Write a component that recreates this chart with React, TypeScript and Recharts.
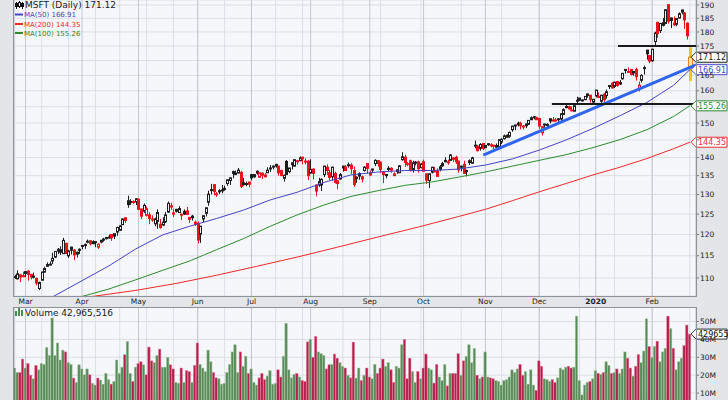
import React from 'react';
import {
  ComposedChart,
  Bar,
  Line,
  XAxis,
  YAxis,
  CartesianGrid,
  ReferenceLine,
} from 'recharts';

// MSFT daily, 25 Feb 2019 .. 24 Feb 2020 (dividend adjusted), index = trading day
const opens = [
  110.3, 109.8, 110.2, 110.5, 111.4, 111.5, 110.8, 110.4, 109.9, 107.7,
  109.5, 111.3, 112.6, 113.0, 113.8, 114.7, 116.5, 115.8, 115.5, 117.9,
  115.0, 117.0, 116.3, 115.8, 116.5, 117.4, 117.5, 118.3, 118.5, 117.8,
  118.2, 117.0, 118.2, 118.9, 119.0, 119.3, 120.0, 119.6, 120.6, 121.0,
  122.4, 124.1, 128.4, 128.0, 128.2, 128.1, 128.8, 126.3, 125.7, 124.7,
  124.8, 123.7, 122.6, 123.2, 122.5, 122.3, 123.1, 125.5, 127.1, 125.3,
  126.2, 125.4, 125.0, 125.7, 125.8, 124.2, 124.1, 123.0, 122.7, 120.1,
  123.8, 125.2, 128.0, 131.1, 132.6, 130.1, 130.7, 131.0, 131.3, 132.9,
  133.7, 136.1, 135.3, 135.7, 135.9, 133.1, 132.8, 133.3, 135.3, 134.7,
  135.7, 134.6, 135.1, 134.7, 135.8, 136.9, 137.5, 138.1, 137.6, 136.4,
  134.3, 138.9, 136.1, 138.5, 137.6, 139.1, 139.1, 140.1, 138.8, 139.0,
  135.7, 136.8, 132.5, 132.5, 132.5, 135.3, 137.3, 135.8, 134.7, 135.6,
  133.6, 134.1, 137.1, 137.4, 137.7, 137.9, 136.4, 134.2, 135.6, 134.1,
  136.4, 138.3, 135.8, 136.5, 138.3, 139.1, 138.7, 136.0, 135.1, 137.0,
  137.0, 135.0, 136.1, 135.8, 139.4, 140.1, 138.2, 139.1, 136.7, 138.5,
  138.8, 137.2, 138.8, 135.5, 133.7, 135.9, 136.3, 136.3, 136.7, 137.7,
  139.2, 138.8, 139.2, 139.9, 140.1, 139.0, 137.6, 138.1, 136.1, 138.6,
  138.4, 143.5, 143.2, 142.6, 144.0, 143.4, 143.9, 143.5, 143.5, 142.9,
  143.1, 144.4, 145.4, 145.8, 146.1, 148.0, 149.1, 150.0, 149.9, 149.0,
  149.7, 149.6, 151.0, 151.9, 151.7, 151.4, 147.1, 149.7, 149.6, 150.6,
  150.7, 150.9, 151.1, 151.2, 152.6, 154.7, 155.0, 153.9, 153.6, 156.9,
  157.7, 157.1, 157.2, 159.0, 158.6, 156.4, 158.4, 157.9, 156.7, 158.9,
  158.5, 161.4, 162.4, 161.4, 163.0, 162.2, 163.9, 167.0, 166.3, 167.0,
  165.8, 167.0, 160.7, 163.4, 167.3, 173.6, 171.7, 169.9, 176.6, 183.5,
  180.5, 182.4, 183.1, 190.1, 185.1, 182.6, 182.8, 185.1, 188.1, 187.0,
  183.2, 167.8,
];

const highs = [
  110.7, 111.7, 110.9, 111.4, 111.5, 111.8, 110.9, 111.2, 110.1, 109.2,
  111.4, 112.5, 113.5, 113.7, 115.7, 116.0, 116.8, 117.2, 119.2, 118.0,
  116.4, 117.1, 116.6, 116.0, 116.7, 117.5, 117.9, 118.8, 118.6, 118.6,
  118.4, 117.9, 118.7, 119.2, 119.4, 120.0, 120.0, 120.2, 121.9, 122.3,
  123.9, 124.2, 129.7, 128.8, 128.5, 129.0, 128.9, 126.3, 127.7, 126.9,
  125.5, 124.7, 124.1, 126.2, 123.8, 124.2, 125.5, 128.2, 127.9, 126.4,
  126.3, 127.0, 125.1, 126.2, 126.8, 124.2, 124.8, 123.4, 123.2, 122.1,
  124.7, 126.7, 131.0, 132.8, 132.6, 130.7, 131.4, 132.5, 132.3, 133.9,
  134.6, 136.4, 136.4, 137.1, 136.3, 134.4, 133.4, 133.3, 135.4, 135.3,
  136.4, 136.0, 135.8, 135.7, 137.3, 137.9, 137.8, 138.2, 137.7, 136.6,
  135.3, 139.3, 137.1, 138.6, 139.4, 139.3, 140.3, 140.1, 139.8, 139.2,
  139.5, 137.0, 132.6, 134.4, 134.3, 137.7, 138.1, 136.6, 137.5, 136.1,
  133.8, 135.7, 137.7, 137.9, 138.6, 138.4, 137.5, 134.8, 135.9, 135.0,
  137.6, 138.3, 136.4, 136.9, 139.5, 139.3, 138.9, 136.1, 135.5, 137.6,
  137.3, 135.9, 136.7, 137.9, 141.5, 140.8, 138.7, 139.4, 139.1, 139.0,
  139.1, 138.4, 139.4, 135.6, 135.6, 137.4, 137.4, 137.0, 137.9, 138.8,
  140.1, 139.4, 140.9, 140.1, 140.5, 139.1, 137.7, 139.1, 136.6, 139.5,
  140.2, 144.8, 143.6, 144.1, 144.0, 143.5, 144.1, 144.1, 143.6, 144.0,
  145.1, 145.5, 146.6, 146.6, 147.5, 149.1, 149.5, 150.4, 150.4, 149.4,
  149.8, 150.9, 152.0, 152.1, 151.9, 151.5, 149.0, 149.8, 149.9, 151.5,
  151.8, 151.5, 151.5, 153.0, 154.5, 155.5, 155.3, 155.1, 155.4, 158.1,
  157.7, 157.3, 158.3, 159.1, 158.6, 157.4, 160.3, 159.5, 158.7, 159.3,
  160.4, 161.8, 162.8, 162.9, 163.2, 163.5, 165.8, 167.0, 167.7, 167.1,
  166.4, 167.6, 163.0, 165.4, 168.3, 173.6, 171.9, 174.0, 180.1, 183.7,
  183.3, 185.1, 188.3, 190.2, 185.3, 185.7, 184.9, 187.2, 188.2, 187.3,
  183.5, 174.55,
];

const lows = [
  109.8, 109.7, 109.1, 110.2, 110.2, 109.4, 109.7, 109.9, 108.4, 107.4,
  109.5, 111.2, 112.5, 112.8, 113.1, 114.5, 115.4, 115.2, 115.5, 115.4,
  114.5, 115.3, 114.0, 114.6, 115.4, 116.5, 116.6, 117.9, 117.4, 117.8,
  117.0, 116.6, 117.9, 118.3, 118.8, 119.0, 118.5, 118.9, 119.7, 121.0,
  122.3, 122.8, 126.6, 127.3, 127.6, 127.3, 126.0, 123.8, 125.3, 124.4,
  122.5, 123.1, 122.0, 121.4, 121.4, 122.1, 122.8, 125.3, 126.1, 124.3,
  125.4, 125.3, 123.5, 124.8, 124.8, 122.8, 123.4, 122.1, 117.9, 118.0,
  123.0, 124.4, 127.1, 130.0, 129.8, 129.4, 130.1, 130.3, 131.0, 132.3,
  132.5, 134.3, 135.2, 135.7, 131.7, 132.3, 132.2, 131.9, 133.7, 134.4,
  135.3, 134.4, 134.1, 134.5, 135.7, 136.0, 136.7, 137.2, 135.0, 135.0,
  133.4, 135.2, 135.7, 136.7, 137.5, 138.0, 139.0, 138.1, 138.1, 133.8,
  135.6, 134.0, 129.5, 132.0, 130.9, 134.6, 135.2, 133.8, 133.7, 132.9,
  131.4, 133.9, 136.1, 136.4, 137.2, 135.5, 132.0, 133.1, 133.9, 133.2,
  136.1, 135.5, 134.9, 135.7, 137.6, 137.4, 135.7, 133.0, 134.3, 136.1,
  135.8, 134.9, 135.5, 135.7, 139.1, 137.4, 137.6, 136.1, 135.8, 137.8,
  135.8, 137.0, 136.2, 132.8, 131.7, 135.6, 136.2, 134.8, 136.2, 137.4,
  138.7, 138.0, 139.0, 138.7, 138.2, 135.8, 136.2, 135.5, 134.8, 137.9,
  138.3, 142.6, 141.8, 141.9, 142.1, 142.7, 143.3, 142.9, 142.3, 142.9,
  143.0, 143.8, 145.1, 145.6, 145.6, 147.4, 147.9, 149.0, 148.1, 148.1,
  148.5, 149.5, 150.9, 151.1, 150.9, 148.3, 146.3, 148.6, 148.2, 149.9,
  150.5, 150.4, 150.0, 150.6, 152.5, 154.5, 154.1, 153.8, 153.6, 155.9,
  156.9, 156.7, 157.0, 157.8, 156.3, 156.1, 157.9, 157.7, 156.1, 156.2,
  157.5, 160.6, 160.8, 160.9, 161.3, 161.9, 163.6, 165.6, 165.8, 165.0,
  164.9, 163.3, 159.8, 162.7, 165.3, 170.3, 169.1, 169.6, 175.2, 177.9,
  179.6, 182.0, 182.8, 183.0, 181.4, 182.1, 182.1, 185.0, 186.5, 181.1,
  177.3, 163.2,
];

const closes = [
  110.1, 110.9, 110.7, 110.5, 111.0, 110.8, 110.2, 110.3, 108.9, 109.0,
  111.3, 112.1, 113.0, 113.1, 114.4, 116.0, 116.1, 116.4, 118.6, 115.5,
  116.1, 116.3, 115.2, 115.4, 116.4, 117.4, 117.6, 118.4, 117.8, 118.3,
  118.3, 117.7, 118.6, 118.7, 119.3, 119.4, 119.2, 120.2, 121.7, 122.1,
  123.8, 123.4, 127.4, 128.2, 128.1, 128.9, 126.2, 124.5, 127.2, 126.4,
  123.9, 123.8, 123.8, 125.4, 121.7, 123.0, 124.8, 127.7, 126.8, 125.0,
  125.7, 126.4, 125.0, 125.0, 124.9, 123.7, 124.5, 122.5, 118.7, 122.0,
  124.6, 126.6, 130.1, 131.3, 130.8, 130.2, 131.0, 131.2, 131.6, 133.9,
  134.4, 135.6, 135.7, 136.5, 132.1, 132.6, 132.9, 132.7, 134.4, 135.3,
  136.2, 135.8, 135.7, 135.2, 136.5, 137.1, 137.6, 137.6, 135.8, 135.0,
  135.1, 135.3, 137.1, 138.0, 139.4, 138.9, 139.9, 139.6, 139.0, 135.0,
  136.7, 135.6, 130.9, 133.4, 134.0, 137.6, 136.4, 134.5, 137.3, 133.2,
  132.9, 135.3, 137.6, 136.4, 138.0, 136.9, 132.6, 134.6, 134.9, 134.7,
  137.3, 137.0, 135.2, 136.8, 139.2, 138.3, 136.7, 135.3, 135.3, 136.7,
  136.5, 135.5, 136.6, 137.7, 140.2, 138.6, 138.3, 136.6, 138.5, 138.7,
  136.9, 138.2, 136.2, 133.8, 135.5, 137.3, 136.3, 134.8, 137.4, 138.3,
  138.8, 138.7, 140.7, 139.5, 138.8, 136.6, 137.6, 135.6, 136.4, 139.1,
  139.9, 143.3, 141.9, 143.7, 142.5, 142.8, 143.7, 143.6, 143.2, 143.4,
  145.1, 145.2, 146.2, 146.4, 147.2, 149.1, 149.4, 149.5, 149.2, 149.1,
  149.2, 150.8, 151.6, 151.9, 151.0, 149.1, 148.9, 149.5, 149.5, 151.3,
  150.9, 150.7, 151.3, 152.8, 154.1, 155.1, 154.3, 154.0, 155.3, 157.0,
  157.0, 157.0, 158.2, 158.5, 157.2, 157.3, 160.2, 158.2, 158.6, 157.2,
  159.7, 161.7, 160.9, 162.8, 161.7, 162.7, 165.7, 166.7, 166.1, 165.3,
  166.3, 164.6, 161.8, 165.0, 167.6, 172.3, 169.8, 173.9, 179.6, 179.4,
  183.1, 183.4, 188.2, 183.9, 184.2, 183.2, 184.9, 186.7, 187.3, 184.4,
  178.6, 171.12,
];

// volume in millions of shares
const volumes = [
  24, 21.5, 21.5, 29, 24, 26.5, 20, 18, 25.5, 23,
  26.5, 26, 35.5, 31, 52, 31, 38, 28.5, 34, 33,
  27, 26, 18.4, 16, 25.8, 23.5, 20.2, 23.5, 20.2, 15.5,
  14.5, 18.4, 17.3, 15, 21, 17.5, 15, 16.5, 28.5, 21,
  24.5, 31.4, 38.8, 21, 16.5, 24.5, 26.5, 27.5, 25.8, 20.2,
  35.7, 28, 27, 31, 34.6, 24.5, 24.5, 30, 25.8, 23.5,
  16, 15.5, 24, 16, 22.5, 22, 16, 25.5, 38, 26,
  24, 22, 34, 27.5, 21.5, 18.5, 18, 15, 15.5, 21.5,
  26, 33, 37, 21.5, 33, 25, 30.6, 21, 23.5, 16,
  14.5, 18.5, 21, 17.5, 19.5, 22.5, 15, 15.5, 23, 19,
  30.6, 49, 23, 18.5, 20.5, 21, 19, 17, 16.5, 38.6,
  40, 30, 41.6, 33, 32, 31, 23.5, 25.8, 26, 31.8,
  29.5, 27, 25, 24, 20, 18.5, 38.5, 18.4, 24, 17,
  20, 24, 19, 18, 26, 21, 24, 29, 25, 27,
  23, 16, 25, 24, 37, 40, 18, 29.5, 22, 16,
  22, 18, 24, 31.8, 24, 23, 15.6, 26, 19, 17,
  26, 14, 21, 21, 21, 32, 20, 28, 30.6, 37,
  27, 35, 20, 18, 19, 33, 19, 18.5, 18, 17,
  16.5, 14.5, 17, 17.5, 19, 23, 21.5, 23.5, 26, 20,
  22, 15, 23, 14.5, 11.5, 28, 25, 18, 17.5, 16.5,
  17.5, 16, 18.5, 24, 23, 24.5, 25, 24, 24.5, 53,
  17, 9, 14.5, 16, 16.5, 18, 22.5, 21, 20.5, 21.5,
  27.5, 25.5, 21, 21.5, 23.5, 21, 23.5, 33, 29.5, 24,
  19.5, 25, 31.5, 27, 33.5, 51.5, 36, 30, 36, 39,
  27.5, 33, 35, 53, 46, 35, 23, 27.5, 29.5, 36.5,
  48, 42.965516,
];

// moving averages at sample days
const ma50Idx = [5, 14, 25, 35, 45, 55, 65, 75, 85, 95, 105, 115, 125, 135, 145, 155, 165, 175, 185, 195, 205, 215, 225, 235, 245, 251];
const ma50Vals = [103.8, 105.9, 109.4, 112.7, 116.6, 119.9, 122.0, 123.9, 126.0, 128.6, 130.6, 133.2, 135.2, 136.0, 136.4, 136.4, 136.8, 137.9, 139.6, 142.1, 145.0, 148.4, 152.2, 156.3, 161.8, 166.91];
const ma100Idx = [15, 25, 35, 45, 55, 65, 75, 85, 95, 105, 115, 125, 135, 145, 155, 165, 175, 185, 195, 205, 215, 225, 235, 245, 251];
const ma100Vals = [103.8, 106.0, 107.6, 109.6, 111.7, 113.8, 116.4, 119.0, 122.0, 124.8, 127.3, 129.5, 131.0, 132.4, 133.3, 134.6, 136.0, 137.6, 139.2, 140.8, 142.8, 145.1, 148.0, 152.0, 155.26];
const ma200Idx = [0, 30, 45, 60, 75, 90, 105, 120, 135, 150, 165, 175, 185, 195, 205, 215, 225, 235, 245, 251];
const ma200Vals = [103.8, 106.1, 107.3, 108.8, 110.6, 112.6, 114.7, 117.0, 119.4, 121.8, 124.4, 126.2, 128.4, 130.7, 132.9, 135.2, 137.3, 139.7, 142.5, 144.35];

const monthStarts = [4, 25, 46, 68, 88, 110, 132, 152, 175, 195, 216, 237];
const monthLabels = ['Mar', 'Apr', 'May', 'Jun', 'Jul', 'Aug', 'Sep', 'Oct', 'Nov', 'Dec', '2020', 'Feb'];
const weekStarts = [
  0, 5, 10, 15, 20, 25, 30, 35, 39, 44, 49, 54, 59, 64, 68, 73, 78, 83, 88, 92, 97, 102,
  107, 112, 117, 122, 127, 132, 136, 141, 146, 151, 156, 161, 166, 171, 176, 181, 186,
  191, 195, 200, 205, 210, 214, 218, 223, 228, 232, 237, 242, 247, 251,
];
const priceTicks = [110, 115, 120, 125, 130, 135, 140, 145, 150, 155, 160, 165, 170, 175, 180, 185, 190];
const hiddenPriceLabels = [145, 155, 170];
const volTicks = [10, 20, 30, 40, 50];

// user drawn annotations (day index, price)
const resistance = [{ x: 224.3, y: 175 }, { x: 253.3, y: 175 }];
const support = [{ x: 199.7, y: 155.8 }, { x: 253.3, y: 155.8 }];
const trendLine = [{ x: 174.2, y: 140.7 }, { x: 253.3, y: 168.5 }];

const FONT = '"DejaVu Sans", Verdana, sans-serif';
const X_DOMAIN: [number, number] = [-0.3, 253.3];
const BG = '#f6f7fa';
const GRID = '#dcdfe5';
const GRID_MONTH = '#c3c7ce';
const C_MA50 = '#4444c4';
const C_MA100 = '#2e8b2e';
const C_MA200 = '#ee2a2a';

const rows: any[] = closes.map((c, i) => ({
  i,
  range: [lows[i], highs[i]],
  o: opens[i],
  h: highs[i],
  l: lows[i],
  c,
  vol: volumes[i],
  down: i > 0 && c < closes[i - 1],
  last: i === closes.length - 1,
  ma50: null,
  ma100: null,
  ma200: null,
}));
ma50Idx.forEach((k, j) => { rows[k].ma50 = ma50Vals[j]; });
ma100Idx.forEach((k, j) => { rows[k].ma100 = ma100Vals[j]; });
ma200Idx.forEach((k, j) => { rows[k].ma200 = ma200Vals[j]; });

const Candle = (props: any) => {
  const { x, y, width, height, payload } = props;
  if (x == null || y == null || !payload) return null;
  const cx = Math.round(x + width / 2) + 0.5;
  const lh = Math.log(payload.h);
  const span = lh - Math.log(payload.l) || 1;
  const py = (v: number) => y + (height * (lh - Math.log(v))) / span;
  const yo = py(payload.o);
  const yc = py(payload.c);
  const top = Math.min(yo, yc);
  const bh = Math.max(Math.abs(yo - yc), 1);
  const hollow = payload.c > payload.o;
  if (payload.last) {
    return (
      <g>
        <line x1={cx} x2={cx} y1={y} y2={y + height} stroke="#f3c21b" strokeWidth={3} />
        <rect x={cx - 2} y={top} width={4} height={bh} fill="#fbe9a8" stroke="#e8821e" strokeWidth={1} />
      </g>
    );
  }
  const col = payload.down ? '#e8141c' : '#1e1e1e';
  return (
    <g>
      <line x1={cx} x2={cx} y1={y} y2={y + height} stroke={col} strokeWidth={1} />
      <rect x={cx - 1} y={top} width={2} height={bh} fill={hollow ? BG : col} stroke={col} strokeWidth={1} />
    </g>
  );
};

const VolBar = (props: any) => {
  const { x, y, width, height, payload } = props;
  if (x == null || y == null || !payload) return null;
  const cx = x + width / 2;
  const fill = payload.down ? '#b3204c' : '#5a8c5a';
  const edge = payload.down ? '#e27a98' : '#9ec49e';
  return <rect x={cx - 1.2} y={y} width={2.4} height={height} fill={fill} stroke={edge} strokeWidth={0.5} />;
};

const Tag = (props: any) => {
  const { viewBox, text, color, textColor } = props;
  if (!viewBox) return null;
  const tip = viewBox.x + viewBox.width - 5;
  const cy = viewBox.y;
  const right = 727;
  const d = `M${tip},${cy} L${tip + 5},${cy - 5} L${right},${cy - 5} L${right},${cy + 5} L${tip + 5},${cy + 5} Z`;
  return (
    <g>
      <path d={d} fill="#ffffff" stroke={color} strokeWidth={1} />
      <text x={tip + 7} y={cy + 3} fontSize={8} fontFamily={FONT} fill={textColor || color}>
        {text}
      </text>
    </g>
  );
};

const MonthTick = (props: any) => {
  const { x, y, payload } = props;
  const k = monthStarts.indexOf(payload.value);
  const label = monthLabels[k] || '';
  return (
    <text x={x} y={y + 8} textAnchor="middle" fontSize={7.5} fontFamily={FONT}
      fontWeight={label === '2020' ? 'bold' : 'normal'} fill="#222">
      {label}
    </text>
  );
};

const PriceTick = (props: any) => {
  const { x, y, payload } = props;
  if (hiddenPriceLabels.includes(payload.value)) return null;
  return (
    <text x={x} y={y} dy="0.35em" fontSize={7.5} fontFamily={FONT} fill="#222">{payload.value}</text>
  );
};

const VolTick = (props: any) => {
  const { x, y, payload } = props;
  return (
    <text x={x} y={y} dy="0.35em" fontSize={7.5} fontFamily={FONT} fill="#222">{`${payload.value}M`}</text>
  );
};

export default function App() {
  return (
    <div style={{ position: 'absolute', left: 0, top: 0, width: 728, height: 400, overflow: 'hidden', background: '#e3e5e9', fontFamily: FONT }}>
      <div style={{ position: 'absolute', left: 0, top: 0 }}>
        <ComposedChart width={728} height={307} data={rows} margin={{ top: 0, right: 0, bottom: 0, left: 14 }}>
          <XAxis xAxisId="w" dataKey="i" type="number" domain={X_DOMAIN} allowDataOverflow ticks={weekStarts} hide />
          <XAxis dataKey="i" type="number" domain={X_DOMAIN} allowDataOverflow ticks={monthStarts} interval={0}
            height={11} tickSize={0} tickMargin={0} axisLine={false} tickLine={false} tick={<MonthTick />} />
          <YAxis orientation="right" scale="log" domain={[106.1, 191.9]} allowDataOverflow ticks={priceTicks}
            interval={0} width={32} tickSize={3} tickMargin={1} axisLine={false} tickLine={{ stroke: '#777' }} tick={<PriceTick />} />
          <CartesianGrid xAxisId="w" stroke={GRID} fill={BG} />
          <CartesianGrid horizontal={false} stroke={GRID_MONTH} />
          <Bar dataKey="range" barSize={3} shape={(p: any) => <Candle {...p} />} isAnimationActive={false} />
          <Line dataKey="ma200" stroke={C_MA200} strokeWidth={1} dot={false} connectNulls isAnimationActive={false} />
          <Line dataKey="ma100" stroke={C_MA100} strokeWidth={1} dot={false} connectNulls isAnimationActive={false} />
          <Line dataKey="ma50" stroke={C_MA50} strokeWidth={1} dot={false} connectNulls isAnimationActive={false} />
          <ReferenceLine segment={trendLine} stroke="#2f64ee" strokeWidth={3} ifOverflow="visible" />
          <ReferenceLine segment={resistance} stroke="#1a1a1a" strokeWidth={2} ifOverflow="visible" />
          <ReferenceLine segment={support} stroke="#1a1a1a" strokeWidth={2} ifOverflow="visible" />
          <ReferenceLine y={144.35} strokeOpacity={0} ifOverflow="visible" label={<Tag text="144.35" color="#e83030" />} />
          <ReferenceLine y={155.26} strokeOpacity={0} ifOverflow="visible" label={<Tag text="155.26" color="#2e8b2e" />} />
          <ReferenceLine y={166.91} strokeOpacity={0} ifOverflow="visible" label={<Tag text="166.91" color="#4a4ad0" />} />
          <ReferenceLine y={171.12} strokeOpacity={0} ifOverflow="visible" label={<Tag text="171.12" color="#222" />} />
        </ComposedChart>
      </div>

      <div style={{ position: 'absolute', left: 0, top: 307 }}>
        <ComposedChart width={728} height={104} data={rows} margin={{ top: 0, right: 0, bottom: 0, left: 14 }}>
          <XAxis xAxisId="w" dataKey="i" type="number" domain={X_DOMAIN} allowDataOverflow ticks={weekStarts} hide />
          <XAxis dataKey="i" type="number" domain={X_DOMAIN} allowDataOverflow ticks={monthStarts} height={0} hide />
          <YAxis orientation="right" domain={[0, 58.1]} allowDataOverflow ticks={volTicks} interval={0}
            width={32} tickSize={3} tickMargin={1} axisLine={false} tickLine={{ stroke: '#777' }} tick={<VolTick />} />
          <CartesianGrid xAxisId="w" stroke={GRID} fill={BG} />
          <CartesianGrid horizontal={false} stroke={GRID_MONTH} />
          <Bar dataKey="vol" barSize={2} shape={(p: any) => <VolBar {...p} />} isAnimationActive={false} />
          <ReferenceLine y={42.965516} strokeOpacity={0} ifOverflow="visible" label={<Tag text="429655" color="#333" textColor="#111" />} />
        </ComposedChart>
      </div>

      {/* panel frames */}
      <div style={{ position: 'absolute', left: 13, top: -1, width: 684, height: 298, border: '1px solid #8d9198', boxSizing: 'border-box', pointerEvents: 'none' }} />
      <div style={{ position: 'absolute', left: 13, top: 307, width: 684, height: 110, border: '1px solid #8d9198', boxSizing: 'border-box', pointerEvents: 'none' }} />

      {/* titles and legend */}
      <svg width={728} height={400} style={{ position: 'absolute', left: 0, top: 0, pointerEvents: 'none' }}>
        <g stroke="#111" strokeWidth={1}>
          <line x1={16.5} x2={16.5} y1={2} y2={9} />
          <rect x={15.5} y={3.5} width={2} height={3} fill="#111" />
          <line x1={19.5} x2={19.5} y1={1} y2={8} />
          <rect x={18.5} y={2.5} width={2} height={4} fill="#fff" />
          <line x1={22.5} x2={22.5} y1={2} y2={9} />
          <rect x={21.5} y={3.5} width={2} height={3} fill="#111" />
        </g>
        <text x={25} y={8} fontSize={9} fontFamily={FONT} fill="#1a1a1a">MSFT (Daily) 171.12</text>

        <line x1={15} x2={23} y1={14.5} y2={14.5} stroke={C_MA50} strokeWidth={2} />
        <text x={24} y={17} fontSize={7} fontFamily={FONT} fill={C_MA50}>MA(50) 166.91</text>
        <line x1={15} x2={23} y1={24} y2={24} stroke={C_MA200} strokeWidth={2} />
        <text x={24} y={26.5} fontSize={7} fontFamily={FONT} fill={C_MA200}>MA(200) 144.35</text>
        <line x1={15} x2={23} y1={33} y2={33} stroke={C_MA100} strokeWidth={2} />
        <text x={24} y={35.5} fontSize={7} fontFamily={FONT} fill={C_MA100}>MA(100) 155.26</text>

        <g fill="#4f8a4f">
          <rect x={15} y={311} width={2} height={5} />
          <rect x={18} y={308} width={2} height={8} />
          <rect x={21} y={310} width={2} height={6} />
        </g>
        <text x={25} y={315.5} fontSize={9} fontFamily={FONT} fill="#1a1a1a">Volume 42,965,516</text>
      </svg>
    </div>
  );
}
